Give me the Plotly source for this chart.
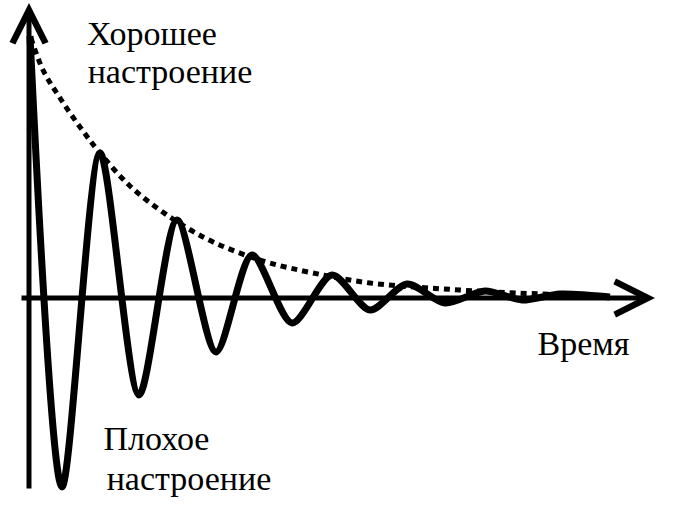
import plotly.graph_objects as go

# Damped oscillation of mood over time (time units, mood units)
wave_time = [1, 33, 71, 110, 148, 187, 223, 263, 303, 341, 378, 416, 456, 493, 531, 581]
wave_mood = [262, -189, 145, -97, 78, -54, 43, -25, 23, -12, 14, -5, 7, -2, 4, 1]

# Decaying envelope (dotted)
env_time = [2, 14, 31, 51, 71, 102, 138, 176, 208, 241, 284, 341, 431, 488, 571]
env_mood = [260, 228, 200, 171, 145, 111, 83, 60, 46, 35, 25, 15, 8, 5, 2]

# Labels
label_text = ["Хорошее", "настроение", "Плохое", "настроение", "Время"]
label_time = [123, 141, 127.5, 160, 554.5]
label_mood = [261.5, 223.5, -143.5, -183.5, -48.5]

fig = go.Figure()
fig.add_trace(go.Scatter(x=env_time, y=env_mood, mode="lines",
                         line=dict(color="black", width=5, dash="6px,5px", shape="spline", smoothing=1),
                         hoverinfo="skip"))
fig.add_trace(go.Scatter(x=wave_time, y=wave_mood, mode="lines",
                         line=dict(color="black", width=7, shape="spline", smoothing=0.8),
                         hoverinfo="skip"))
fig.add_trace(go.Scatter(x=label_time, y=label_mood, mode="text", text=label_text,
                         textposition="middle center",
                         textfont=dict(family="Liberation Serif", size=34, color="black"),
                         hoverinfo="skip", cliponaxis=False))

ann = [
    dict(x=626, y=0, ax=-9, ay=0, xref="x", yref="y", axref="x", ayref="y",
         text="", showarrow=True, arrowhead=5, arrowwidth=5, arrowsize=1.3,
         arrowcolor="black", standoff=0, startstandoff=0),
    dict(x=0, y=295, ax=0, ay=-192, xref="x", yref="y", axref="x", ayref="y",
         text="", showarrow=True, arrowhead=5, arrowwidth=5, arrowsize=1.3,
         arrowcolor="black", standoff=0, startstandoff=0),
]

fig.update_layout(width=677, height=515, margin=dict(l=0, r=0, t=0, b=0),
                  font=dict(family="Liberation Serif", size=34, color="black"),
                  paper_bgcolor="white", plot_bgcolor="white", showlegend=False,
                  xaxis=dict(range=[-29, 648], visible=False, fixedrange=True),
                  yaxis=dict(range=[-217, 298], visible=False, fixedrange=True),
                  annotations=ann)
fig.write_html("out.html", config={"displayModeBar": False},
               post_script="document.body.style.margin='0';")
